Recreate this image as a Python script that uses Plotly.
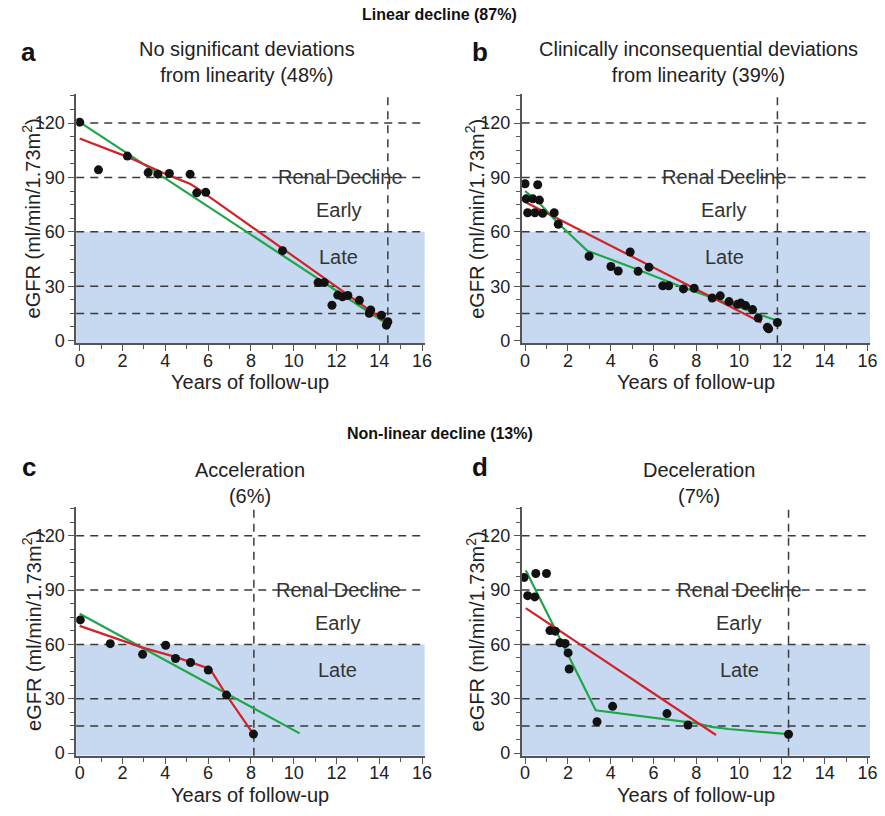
import plotly.graph_objects as go

# ---------------- data ----------------
# Panel a
a_x = [0.0, 0.88, 2.23, 3.2, 3.65, 4.19, 5.16, 5.47, 5.89, 9.48, 11.14, 11.43, 11.79, 12.06, 12.28, 12.53, 13.07, 13.53, 13.6, 14.1, 14.33, 14.4]
a_y = [120.5, 94.2, 101.8, 92.7, 91.8, 92.2, 91.8, 81.5, 81.8, 49.6, 32.0, 32.0, 19.5, 25.1, 24.2, 24.9, 22.2, 15.1, 16.9, 14.0, 8.5, 10.4]
a_red_x = [0.0, 2.2, 4.2, 5.15, 5.5, 12.4, 14.3]
a_red_y = [111.5, 101.5, 91.0, 86.5, 84.0, 26.4, 10.5]
a_green_x = [0.0, 14.2]
a_green_y = [120.5, 10.4]
a_end = 14.4

# Panel b
b_x = [0.0, 0.05, 0.12, 0.36, 0.46, 0.59, 0.67, 0.82, 1.36, 1.55, 2.99, 4.01, 4.35, 4.91, 5.28, 5.79, 6.43, 6.71, 7.4, 7.9, 8.74, 9.12, 9.53, 9.92, 10.08, 10.3, 10.63, 10.89, 11.32, 11.38, 11.79]
b_y = [86.5, 78.2, 70.5, 78.2, 70.5, 86.0, 77.5, 70.2, 70.5, 64.2, 46.5, 40.9, 38.4, 48.9, 38.2, 40.5, 30.2, 30.2, 28.5, 28.9, 23.5, 24.7, 21.5, 20.0, 20.7, 19.3, 17.1, 12.4, 7.3, 6.5, 10.0]
b_red_x = [0.0, 11.04]
b_red_y = [76.4, 10.0]
b_green_x = [0.0, 0.59, 1.52, 2.91, 5.16, 7.33, 9.5, 11.79]
b_green_y = [82.4, 76.9, 65.0, 49.6, 39.6, 29.6, 20.5, 10.9]
b_end = 11.79

# Panel c
c_x = [0.03, 1.43, 2.94, 4.02, 4.48, 5.18, 6.01, 6.86, 8.12]
c_y = [73.5, 60.4, 54.5, 59.5, 52.2, 50.0, 45.8, 32.0, 10.5]
c_red_x = [0.0, 2.94, 4.47, 5.16, 6.09, 6.86, 8.06]
c_red_y = [70.2, 58.2, 53.1, 50.4, 46.4, 32.0, 11.5]
c_green_x = [0.0, 10.28]
c_green_y = [76.9, 10.9]
c_end = 8.14

# Panel d
d_x = [-0.05, 0.12, 0.45, 0.5, 1.0, 1.16, 1.41, 1.63, 1.87, 2.01, 2.06, 3.36, 4.09, 6.63, 7.61, 12.31]
d_y = [96.9, 86.9, 86.2, 99.1, 99.1, 67.6, 67.3, 60.9, 60.5, 55.3, 46.4, 17.3, 25.8, 21.8, 15.5, 10.4]
d_red_x = [0.03, 8.92]
d_red_y = [80.0, 10.0]
d_green_x = [0.03, 3.3, 7.95, 8.72, 9.5, 12.28]
d_green_y = [100.9, 23.6, 16.5, 14.5, 13.3, 10.5]
d_end = 12.31

x_ticks = [0, 2, 4, 6, 8, 10, 12, 14, 16]
y_ticks = [0, 30, 60, 90, 120]
ref_lines = [15, 30, 60, 90, 120]

panel_letters = ["a", "b", "c", "d"]
panel_titles = [
    "No significant deviations<br>from linearity (48%)",
    "Clinically inconsequential deviations<br>from linearity (39%)",
    "Acceleration<br>(6%)",
    "Deceleration<br>(7%)",
]
group_titles = ["Linear decline (87%)", "Non-linear decline (13%)"]
x_title = "Years of follow-up"
y_title = "eGFR (ml/min/1.73m<sup>2</sup>)"
zone_labels = ["Renal Decline", "Early", "Late"]
zone_pos = [  # (x of label center) per panel
    (12.2, 12.1), (9.34, 9.3), (12.1, 12.05), (10.04, 10.0)
]

# ---------------- layout ----------------
W, H = 885, 816
FONT = "Liberation Sans, Arial, Helvetica, sans-serif"
RED = "#d2232a"
GREEN = "#1fa64a"
SHADE = "#c6d9f0"
DASHC = "#3a3a3a"
AXC = "#555555"

xdom = [[75 / W, 427 / W], [525 / W, 877 / W], [75 / W, 427 / W], [525 / W, 877 / W]]
ydom_top = [1 - 346.7 / H, 1 - 95 / H]
ydom_bot = [1 - 763.3 / H, 1 - 511.7 / H]
ydom = [ydom_top, ydom_top, ydom_bot, ydom_bot]
XR = [-0.16, 16.12]
YR = [-1.5, 136]

panels = [
    (a_x, a_y, a_red_x, a_red_y, a_green_x, a_green_y, a_end),
    (b_x, b_y, b_red_x, b_red_y, b_green_x, b_green_y, b_end),
    (c_x, c_y, c_red_x, c_red_y, c_green_x, c_green_y, c_end),
    (d_x, d_y, d_red_x, d_red_y, d_green_x, d_green_y, d_end),
]

fig = go.Figure()
shapes = []
annotations = []

for i, (px, py, rx, ry, gx, gy, xend) in enumerate(panels):
    n = "" if i == 0 else str(i + 1)
    xa, ya = "x" + n, "y" + n
    fig.add_trace(go.Scatter(x=gx, y=gy, mode="lines", line=dict(color=GREEN, width=2.2),
                             xaxis=xa, yaxis=ya, showlegend=False, hoverinfo="skip"))
    fig.add_trace(go.Scatter(x=rx, y=ry, mode="lines", line=dict(color=RED, width=2.2),
                             xaxis=xa, yaxis=ya, showlegend=False, hoverinfo="skip"))
    fig.add_trace(go.Scatter(x=px, y=py, mode="markers", marker=dict(color="#111111", size=9),
                             xaxis=xa, yaxis=ya, showlegend=False))

    axis_common = dict(showline=True, linecolor=AXC, linewidth=1.5, ticks="outside",
                       tickcolor=AXC, ticklen=6, tickwidth=1.3, showgrid=False, zeroline=False,
                       tickfont=dict(family=FONT, size=18, color="#222"))
    fig.update_layout(**{
        "xaxis" + n: dict(domain=xdom[i], range=XR, anchor=ya, tickvals=x_ticks,
                          minor=dict(dtick=1, tick0=0, ticks="outside", ticklen=4, tickcolor=AXC, tickwidth=1),
                          ticklabelstandoff=-6,
                          **axis_common),
        "yaxis" + n: dict(domain=ydom[i], range=YR, anchor=xa, tickvals=y_ticks,
                          minor=dict(dtick=7.5, tick0=0, ticks="outside", ticklen=4, tickcolor=AXC, tickwidth=1),
                          **axis_common),
    })

    # axis titles placed as annotations for exact positioning
    xc = (xdom[i][0] + xdom[i][1]) / 2
    xt_y = 386 if i < 2 else 803
    annotations.append(dict(xref="paper", yref="paper", x=xc, y=1 - xt_y / H, text=x_title,
                            showarrow=False, font=dict(family=FONT, size=20, color="#222"),
                            xanchor="center", yanchor="middle"))
    yc = (ydom[i][0] + ydom[i][1]) / 2
    yt_x = 30 if i % 2 == 0 else 478
    annotations.append(dict(xref="paper", yref="paper", x=yt_x / W, y=yc, text=y_title, textangle=-90,
                            showarrow=False, font=dict(family=FONT, size=20, color="#222"),
                            xanchor="center", yanchor="middle"))

    # shaded late zone
    shapes.append(dict(type="rect", xref=xa + " domain", yref=ya, x0=0, x1=1, y0=YR[0], y1=60,
                       fillcolor=SHADE, line=dict(width=0), layer="below"))
    for v in ref_lines:
        shapes.append(dict(type="line", xref=xa + " domain", yref=ya, x0=0, x1=1, y0=v, y1=v,
                           line=dict(color=DASHC, width=1.5, dash="8px,6px"), layer="below"))
    shapes.append(dict(type="line", xref=xa, yref=ya + " domain", x0=xend, x1=xend, y0=0, y1=1,
                       line=dict(color=DASHC, width=1.5, dash="8px,6px"), layer="below"))

    zx1, zx2 = zone_pos[i]
    annotations.append(dict(xref=xa, yref=ya, x=zx1, y=90, text=zone_labels[0], showarrow=False,
                            font=dict(family=FONT, size=20, color="#333")))
    annotations.append(dict(xref=xa, yref=ya, x=zx2, y=72, text=zone_labels[1], showarrow=False,
                            font=dict(family=FONT, size=20, color="#333")))
    annotations.append(dict(xref=xa, yref=ya, x=zx2, y=46, text=zone_labels[2], showarrow=False,
                            font=dict(family=FONT, size=20, color="#333")))

# panel letters and titles
letter_pos = [(27, 53), (483, 53), (27, 472), (483, 472)]
title_pos = [(248, 63), (704, 63), (251, 488), (704, 488)]
for i in range(4):
    lx, ly = letter_pos[i]
    annotations.append(dict(xref="paper", yref="paper", x=lx / W, y=1 - ly / H, text="<b>%s</b>" % panel_letters[i],
                            showarrow=False, font=dict(family=FONT, size=26, color="#111"),
                            xanchor="center", yanchor="middle"))
    tx, ty = title_pos[i]
    annotations.append(dict(xref="paper", yref="paper", x=tx / W, y=1 - ty / H, text=panel_titles[i],
                            showarrow=False, font=dict(family=FONT, size=20, color="#222"),
                            xanchor="center", yanchor="middle"))

annotations.append(dict(xref="paper", yref="paper", x=442 / W, y=1 - 15 / H, text="<b>%s</b>" % group_titles[0],
                        showarrow=False, font=dict(family=FONT, size=16, color="#111"),
                        xanchor="center", yanchor="middle"))
annotations.append(dict(xref="paper", yref="paper", x=442 / W, y=1 - 438 / H, text="<b>%s</b>" % group_titles[1],
                        showarrow=False, font=dict(family=FONT, size=16, color="#111"),
                        xanchor="center", yanchor="middle"))

fig.update_layout(width=W, height=H, margin=dict(l=0, r=0, t=0, b=0),
                  paper_bgcolor="white", plot_bgcolor="white",
                  shapes=shapes, annotations=annotations,
                  font=dict(family=FONT))

fig.write_html("out.html", config={"displayModeBar": False},
               post_script="document.body.style.margin='0px';document.body.style.overflow='hidden';")
